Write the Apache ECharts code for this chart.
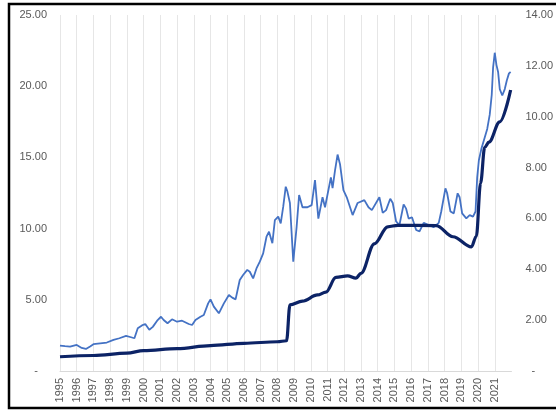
<!DOCTYPE html>
<html>
<head>
<meta charset="utf-8">
<script src="https://cdn.jsdelivr.net/npm/echarts@6/dist/echarts.min.js"></script>
<style>
  html, body { margin: 0; padding: 0; background: #fff; }
  #echartsMain { width: 556px; height: 411px; }
</style>
</head>
<body>
<div id="echartsMain"></div>
<script>
// thin line (left axis)
var thinYears = [1995.0, 1995.3, 1995.6, 1996.0, 1996.3, 1996.55, 1996.8, 1997.0, 1997.4, 1997.8,
  1998.2, 1998.55, 1998.95, 1999.25, 1999.45, 1999.65, 1999.9, 2000.1, 2000.34, 2000.55,
  2000.84, 2001.04, 2001.2, 2001.43, 2001.7, 2002.0, 2002.3, 2002.7, 2002.9, 2003.1,
  2003.4, 2003.6, 2003.86, 2004.0, 2004.2, 2004.5, 2004.8, 2005.1, 2005.3, 2005.5,
  2005.75, 2005.95, 2006.2, 2006.35, 2006.55, 2006.75, 2006.95, 2007.15, 2007.35, 2007.5,
  2007.7, 2007.85, 2008.05, 2008.2, 2008.35, 2008.5, 2008.6, 2008.75, 2008.95, 2009.15,
  2009.3, 2009.5, 2009.8, 2010.05, 2010.25, 2010.45, 2010.7, 2010.85, 2011.2, 2011.3,
  2011.45, 2011.6, 2011.75, 2011.95, 2012.15, 2012.5, 2012.8, 2013.2, 2013.45, 2013.65,
  2014.1, 2014.3, 2014.5, 2014.75, 2014.9, 2015.1, 2015.3, 2015.55, 2015.7, 2015.85,
  2016.05, 2016.3, 2016.5, 2016.75, 2017.05, 2017.35, 2017.65, 2017.8, 2018.05, 2018.15,
  2018.35, 2018.55, 2018.78, 2018.9, 2019.05, 2019.3, 2019.5, 2019.7, 2019.85, 2019.95,
  2020.05, 2020.2, 2020.4, 2020.55, 2020.7, 2020.82, 2020.9, 2021.0, 2021.1, 2021.2,
  2021.3, 2021.45, 2021.6, 2021.72, 2021.85, 2021.95];
var thinValues = [1.78, 1.74, 1.71, 1.83, 1.62, 1.55, 1.72, 1.88, 1.94, 2.0,
  2.18, 2.3, 2.46, 2.37, 2.3, 3.0, 3.2, 3.3, 2.9, 3.1,
  3.58, 3.81, 3.58, 3.35, 3.63, 3.46, 3.53, 3.3, 3.23, 3.58,
  3.81, 3.93, 4.75, 5.03, 4.52, 4.05, 4.75, 5.34, 5.15, 5.03,
  6.39, 6.74, 7.1, 6.97, 6.5, 7.2, 7.68, 8.26, 9.43, 9.78,
  8.97, 10.6, 10.84, 10.37, 11.54, 12.94, 12.6, 11.8, 7.67, 10.1,
  12.36, 11.5, 11.5, 11.65, 13.4, 10.7, 12.2, 11.5, 13.6, 12.85,
  14.1, 15.2, 14.5, 12.7, 12.2, 10.95, 11.8, 12.0, 11.5, 11.3,
  12.2, 11.1, 11.3, 12.1, 11.8, 10.5, 10.25, 11.7, 11.4, 10.7,
  10.8, 9.9, 9.8, 10.4, 10.25, 10.1, 10.4, 11.2, 12.83, 12.5,
  11.2, 11.07, 12.48, 12.2, 11.07, 10.72, 10.95, 10.84, 11.2, 13.6,
  14.8, 15.6, 16.4, 17.0, 18.0, 19.4, 21.3, 22.35, 21.5, 21.0,
  19.8, 19.35, 19.8, 20.4, 20.9, 21.0];

// thick line (right axis)
var thickYears = [1995.0, 1997.0, 1999.0, 2000.0, 2002.0, 2004.0, 2006.0, 2008.0, 2008.55, 2008.75,
  2009.5, 2010.4, 2010.9, 2011.5, 2012.2, 2012.7, 2013.0, 2013.8, 2014.6, 2015.2,
  2017.5, 2018.5, 2019.6, 2019.9, 2020.15, 2020.4, 2020.65, 2021.3, 2021.95];
var thickValues = [0.56, 0.61, 0.7, 0.8, 0.88, 1.0, 1.09, 1.15, 1.19, 2.6,
  2.75, 2.99, 3.1, 3.68, 3.74, 3.65, 3.84, 5.0, 5.67, 5.73,
  5.72, 5.28, 4.88, 5.3, 7.38, 8.8, 9.0, 9.8, 11.05];

var myChart = echarts.init(document.getElementById('echartsMain'));

function pairs(xs, ys) {
  return xs.map(function (x, i) { return [x, ys[i]]; });
}

var labelStyle = { color: '#595959', fontSize: 11, fontFamily: 'Liberation Sans, Arial, sans-serif' };

var option = {
  animation: false,
  backgroundColor: '#fff',
  grid: { left: 60, right: 41, top: 15, bottom: 40 },
  graphic: [{
    type: 'rect',
    shape: { x: 9, y: 4, width: 560, height: 404 },
    style: { fill: 'none', stroke: '#000', lineWidth: 2.5 },
    silent: true
  }],
  xAxis: {
    type: 'value',
    min: 1995,
    max: 2022,
    interval: 1,
    axisLine: { lineStyle: { color: '#d9d9d9' } },
    axisTick: { show: false },
    splitLine: { show: true, showMaxLine: false, lineStyle: { color: '#e6e6e6', width: 1 } },
    axisLabel: Object.assign({
      rotate: 90,
      margin: 7,
      showMaxLabel: false,
      formatter: function (v) { return (v >= 2022 || v % 1 !== 0) ? '' : String(v); }
    }, labelStyle)
  },
  yAxis: [{
    type: 'value',
    min: 0,
    max: 25,
    interval: 5,
    axisLine: { show: false },
    axisTick: { show: false },
    splitLine: { show: false },
    axisLabel: Object.assign({
      margin: 13,
      formatter: function (v) { return v === 0 ? '-   ' : v.toFixed(2); }
    }, labelStyle)
  }, {
    type: 'value',
    position: 'right',
    min: 0,
    max: 14,
    interval: 2,
    axisLine: { show: false },
    axisTick: { show: false },
    splitLine: { show: false },
    axisLabel: Object.assign({
      margin: 14,
      formatter: function (v) { return v === 0 ? '  -' : v.toFixed(2); }
    }, labelStyle)
  }],
  series: [{
    name: 'thin',
    type: 'line',
    yAxisIndex: 0,
    showSymbol: false,
    data: pairs(thinYears, thinValues),
    lineStyle: { color: '#4472c4', width: 1.8 },
    z: 2
  }, {
    name: 'thick',
    type: 'line',
    yAxisIndex: 1,
    showSymbol: false,
    smooth: 0.35,
    smoothMonotone: 'x',
    data: pairs(thickYears, thickValues),
    lineStyle: { color: '#0c2366', width: 3.2 },
    z: 3
  }]
};

myChart.setOption(option);
</script>
</body>
</html>
